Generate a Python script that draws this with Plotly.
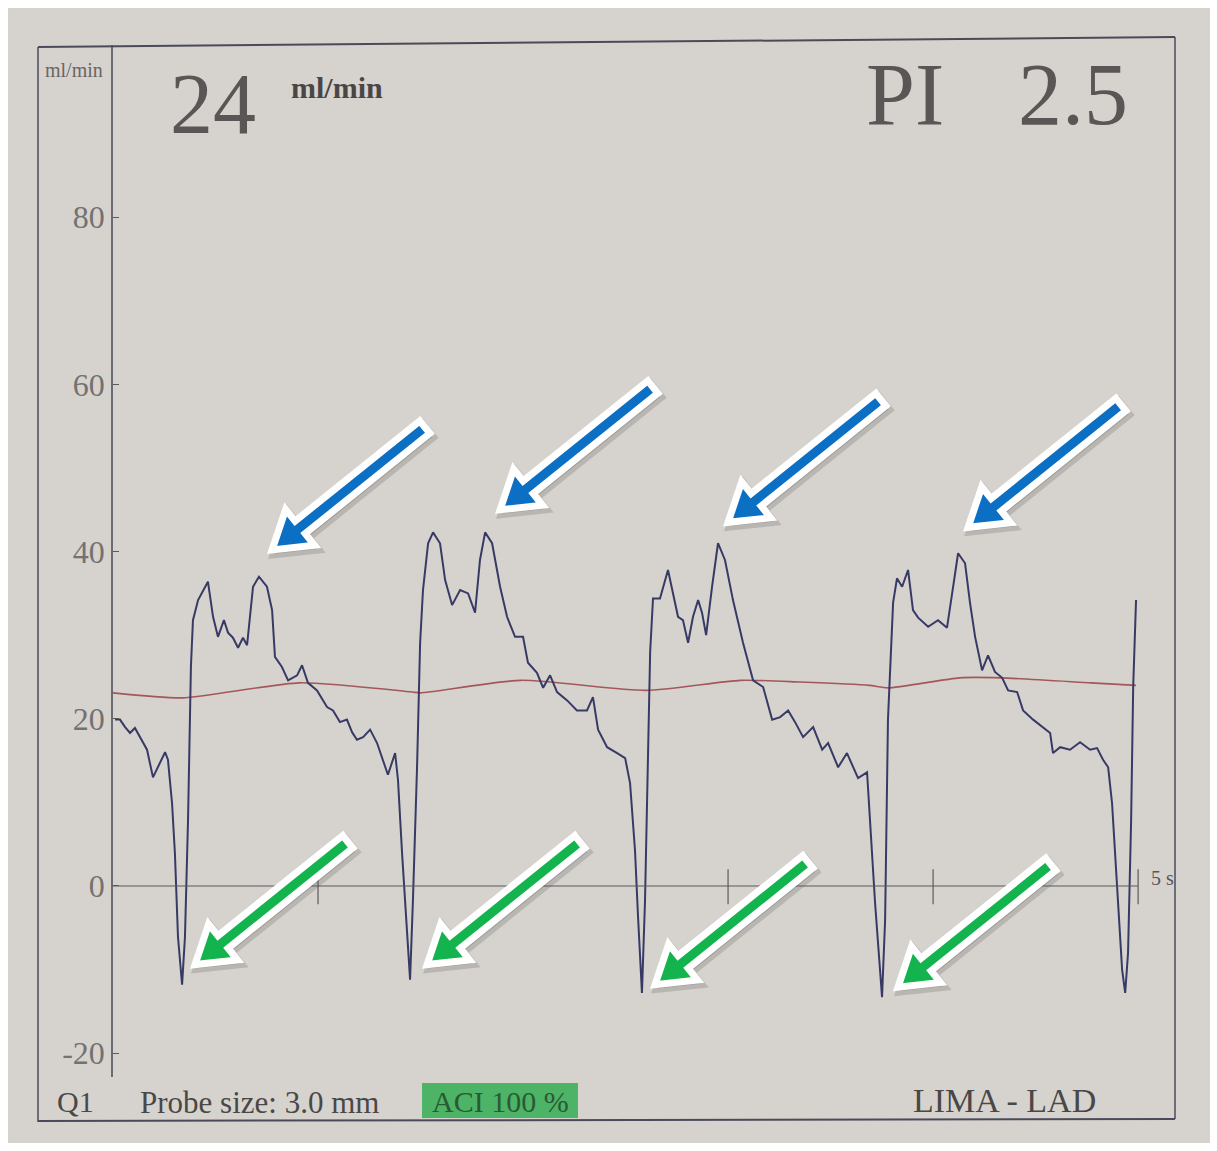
import plotly.graph_objects as go
import math

# ---------------- data (time in s, flow in ml/min) ----------------
flow_t = [0.010, 0.034, 0.059, 0.083, 0.107, 0.141, 0.166, 0.195, 0.220, 0.254, 0.268, 0.288, 0.302, 0.317,
          0.337, 0.351, 0.366, 0.380, 0.390, 0.415, 0.463, 0.488, 0.512, 0.541, 0.561, 0.585, 0.610, 0.634,
          0.654, 0.683, 0.712, 0.751, 0.776, 0.790, 0.824, 0.854, 0.898, 0.922, 0.951, 0.995, 1.044, 1.073,
          1.107, 1.141, 1.166, 1.190, 1.220, 1.254, 1.288, 1.317, 1.341, 1.376, 1.390, 1.410, 1.424, 1.449,
          1.463, 1.483, 1.498, 1.512, 1.537, 1.561, 1.595, 1.620, 1.654, 1.693, 1.732, 1.766, 1.790, 1.815,
          1.849, 1.888, 1.922, 1.961, 2.000, 2.024, 2.068, 2.098, 2.132, 2.166, 2.215, 2.263, 2.312, 2.341,
          2.366, 2.410, 2.459, 2.498, 2.522, 2.546, 2.561, 2.580, 2.595, 2.610, 2.620, 2.634, 2.668, 2.707,
          2.732, 2.756, 2.780, 2.805, 2.829, 2.854, 2.873, 2.893, 2.922, 2.951, 2.985, 3.024, 3.073, 3.122,
          3.171, 3.215, 3.254, 3.293, 3.327, 3.366, 3.415, 3.459, 3.488, 3.537, 3.580, 3.634, 3.678, 3.693,
          3.717, 3.751, 3.766, 3.780, 3.805, 3.824, 3.849, 3.878, 3.902, 3.927, 3.976, 4.024, 4.068, 4.093,
          4.122, 4.156, 4.180, 4.205, 4.239, 4.268, 4.302, 4.337, 4.366, 4.410, 4.439, 4.488, 4.532, 4.571,
          4.585, 4.620, 4.668, 4.717, 4.766, 4.800, 4.829, 4.854, 4.873, 4.898, 4.922, 4.937, 4.951, 4.966,
          4.976, 4.990]
flow_v = [19.9, 19.9, 19.0, 18.3, 18.9, 17.5, 16.3, 13.0, 14.2, 16.0, 15.1, 9.9, 3.9, -6.1,
          -11.8, -6.1, 7.9, 26.2, 31.8, 34.2, 36.4, 32.2, 29.8, 31.8, 30.3, 29.7, 28.5, 29.7,
          28.8, 35.8, 37.0, 35.8, 33.0, 27.4, 26.2, 24.6, 25.2, 26.4, 24.3, 23.4, 21.4, 21.0,
          19.6, 19.9, 18.4, 17.5, 17.8, 18.7, 17.1, 15.1, 13.3, 15.9, 12.7, 3.9, -2.0, -11.2,
          -1.7, 14.2, 29.1, 35.4, 41.0, 42.3, 41.0, 36.6, 33.6, 35.4, 35.0, 32.7, 39.0, 42.3,
          41.0, 35.8, 32.2, 29.8, 29.8, 26.7, 25.5, 23.7, 25.2, 23.2, 22.2, 21.0, 21.0, 22.6,
          18.7, 16.6, 15.9, 15.3, 12.3, 4.3, -3.7, -12.8, -1.7, 18.3, 28.0, 34.4, 34.4, 37.8,
          35.0, 32.2, 31.8, 29.1, 32.2, 34.2, 32.7, 30.0, 35.8, 41.0, 39.0, 34.2, 29.1, 24.6,
          23.8, 19.9, 20.2, 21.0, 19.6, 17.8, 19.0, 16.3, 17.1, 14.2, 15.9, 12.9, 13.6, 7.9,
          -2.0, -13.3, -4.1, 19.9, 33.9, 36.8, 35.8, 37.8, 33.0, 32.1, 31.0, 31.8, 30.9, 35.0,
          39.8, 38.6, 33.9, 29.8, 25.8, 27.6, 25.6, 24.9, 23.4, 23.2, 21.0, 19.9, 19.0, 18.3,
          15.9, 16.6, 16.3, 17.2, 16.3, 16.5, 15.1, 14.2, 9.9, 0.0, -10.0, -12.8, -8.0, 7.9,
          23.8, 34.2]

mean_t = [0.0, 0.34, 0.91, 1.46, 1.50, 1.99, 2.60, 3.06, 3.35, 3.69, 3.78, 4.13, 4.33, 4.77, 4.99]
mean_v = [23.1, 22.5, 24.3, 23.2, 23.1, 24.6, 23.4, 24.6, 24.4, 24.0, 23.7, 24.9, 24.9, 24.3, 24.0]

y_ticks = [-20, 0, 20, 40, 60, 80]
time_ticks = [1, 3, 4, 5]
time_end = 5

blue_t = [0.776, 1.888, 3.000, 4.171]
blue_v = [40.2, 45.0, 43.5, 42.9]
green_t = [0.400, 1.532, 2.644, 3.829]
green_v = [-9.4, -9.4, -11.8, -12.1]

mean_flow = "24"
pi_value = "2.5"

# ---------------- layout helpers ----------------
W, H = 1217, 1151
def px(x):
    return x / W
def py(y):
    return 1 - y / H

SERIF = "Liberation Serif, Times New Roman, serif"
INK = "#5a5656"
TRACE = "#383a66"
MEANC = "#a4575a"
PAPER = "#d6d3ce"

fig = go.Figure()

fig.add_trace(go.Scatter(x=mean_t, y=mean_v, mode="lines", line_shape="spline",
                         line=dict(color=MEANC, width=1.6, smoothing=0.6), hoverinfo="skip", showlegend=False))
fig.add_trace(go.Scatter(x=flow_t, y=flow_v, mode="lines",
                         line=dict(color=TRACE, width=2.0), hoverinfo="skip", showlegend=False))

shapes = []
# photo paper background
shapes.append(dict(type="rect", xref="paper", yref="paper", x0=px(8), x1=px(1210), y0=py(1143), y1=py(8),
                   fillcolor=PAPER, line=dict(width=0), layer="below"))
# printout frame
frame_c = "#4a4a5a"
shapes.append(dict(type="line", xref="paper", yref="paper", x0=px(38), y0=py(47), x1=px(1175), y1=py(37),
                   line=dict(color=frame_c, width=2)))
shapes.append(dict(type="line", xref="paper", yref="paper", x0=px(38), y0=py(47), x1=px(38), y1=py(1122),
                   line=dict(color=frame_c, width=1.5)))
shapes.append(dict(type="line", xref="paper", yref="paper", x0=px(1175), y0=py(37), x1=px(1175), y1=py(1119),
                   line=dict(color=frame_c, width=1.5)))
shapes.append(dict(type="line", xref="paper", yref="paper", x0=px(38), y0=py(1121), x1=px(1175), y1=py(1119),
                   line=dict(color=frame_c, width=2)))
# green ACI box
shapes.append(dict(type="rect", xref="paper", yref="paper", x0=px(422), x1=px(578), y0=py(1118), y1=py(1083),
                   fillcolor="#4db366", line=dict(width=0), layer="below"))

# time axis (zero line) and time ticks
shapes.append(dict(type="line", xref="x", yref="y", x0=0, x1=time_end, y0=0, y1=0,
                   line=dict(color="#5a5a5a", width=1.2)))
for tt in time_ticks:
    shapes.append(dict(type="line", xref="x", yref="y", x0=tt, x1=tt, y0=-2.2, y1=2.0,
                       line=dict(color="#5a5a5a", width=1.2)))

# arrows (pixel-size polygons anchored to data points)
def arrow_path(L=196, Hh=36, Wh=23, S=8, dx=153, dy=123):
    n = math.hypot(dx, dy)
    ux, uy = dx / n, dy / n
    nx, ny = -uy, ux
    pts = [(0, 0),
           (Hh * ux + Wh * nx, Hh * uy + Wh * ny),
           (Hh * ux + S * nx, Hh * uy + S * ny),
           (L * ux + S * nx, L * uy + S * ny),
           (L * ux - S * nx, L * uy - S * ny),
           (Hh * ux - S * nx, Hh * uy - S * ny),
           (Hh * ux - Wh * nx, Hh * uy - Wh * ny)]
    return "M " + " L ".join(f"{x:.1f},{y:.1f}" for x, y in pts) + " Z"

APATH = arrow_path()
for ts, vs, col in [(blue_t, blue_v, "#0b6fc4"), (green_t, green_v, "#13b34e")]:
    for t, v in zip(ts, vs):
        shapes.append(dict(type="path", xref="x", yref="y", xsizemode="pixel", ysizemode="pixel",
                           xanchor=t + 0.012, yanchor=v - 0.45, path=APATH,
                           fillcolor="rgba(80,80,80,0.28)", line=dict(color="rgba(80,80,80,0.22)", width=9)))
        shapes.append(dict(type="path", xref="x", yref="y", xsizemode="pixel", ysizemode="pixel",
                           xanchor=t, yanchor=v, path=APATH,
                           fillcolor=col, line=dict(color="white", width=7)))

annotations = []
def txt(text, x, y, size, color=INK, bold=False, xanchor="center"):
    annotations.append(dict(text=f"<b>{text}</b>" if bold else text, xref="paper", yref="paper",
                            x=px(x), y=py(y), xanchor=xanchor, yanchor="middle", showarrow=False,
                            font=dict(family=SERIF, size=size, color=color)))

txt("ml/min", 74, 70, 20, "#6a6565")
txt(mean_flow, 213, 104, 86)
txt("ml/min", 337, 88, 30, "#4a4646", bold=True)
txt("PI", 905, 95, 88)
txt(pi_value, 1073, 95, 88)
txt("Q1", 75, 1101, 30, "#4a4747")
txt("Probe size: 3.0 mm", 259, 1102, 31, "#4a4747")
txt("ACI 100 %", 500, 1101, 30, "#2a5a33")
txt("LIMA - LAD", 1004, 1100, 34, "#4a4747")
txt("5 s", 1162, 878, 20, "#5a5656")

fig.update_layout(
    width=W, height=H, margin=dict(l=0, r=0, t=0, b=0),
    paper_bgcolor="white", plot_bgcolor="rgba(0,0,0,0)",
    showlegend=False, shapes=shapes, annotations=annotations,
    xaxis=dict(domain=[px(113), px(1175)], range=[0, 5.18], visible=False, fixedrange=True),
    yaxis=dict(domain=[py(1077), py(45)], range=[-22.85, 100.6], tickvals=y_ticks,
               ticktext=[str(v) for v in y_ticks], ticks="inside", ticklen=6, tickwidth=1.3,
               tickcolor="#5a5a5a", showline=True, linecolor="#6a6a72", linewidth=1.5,
               showgrid=False, zeroline=False, tickfont=dict(family=SERIF, size=32, color="#747171"),
               fixedrange=True),
)

fig.write_html("out.html")
